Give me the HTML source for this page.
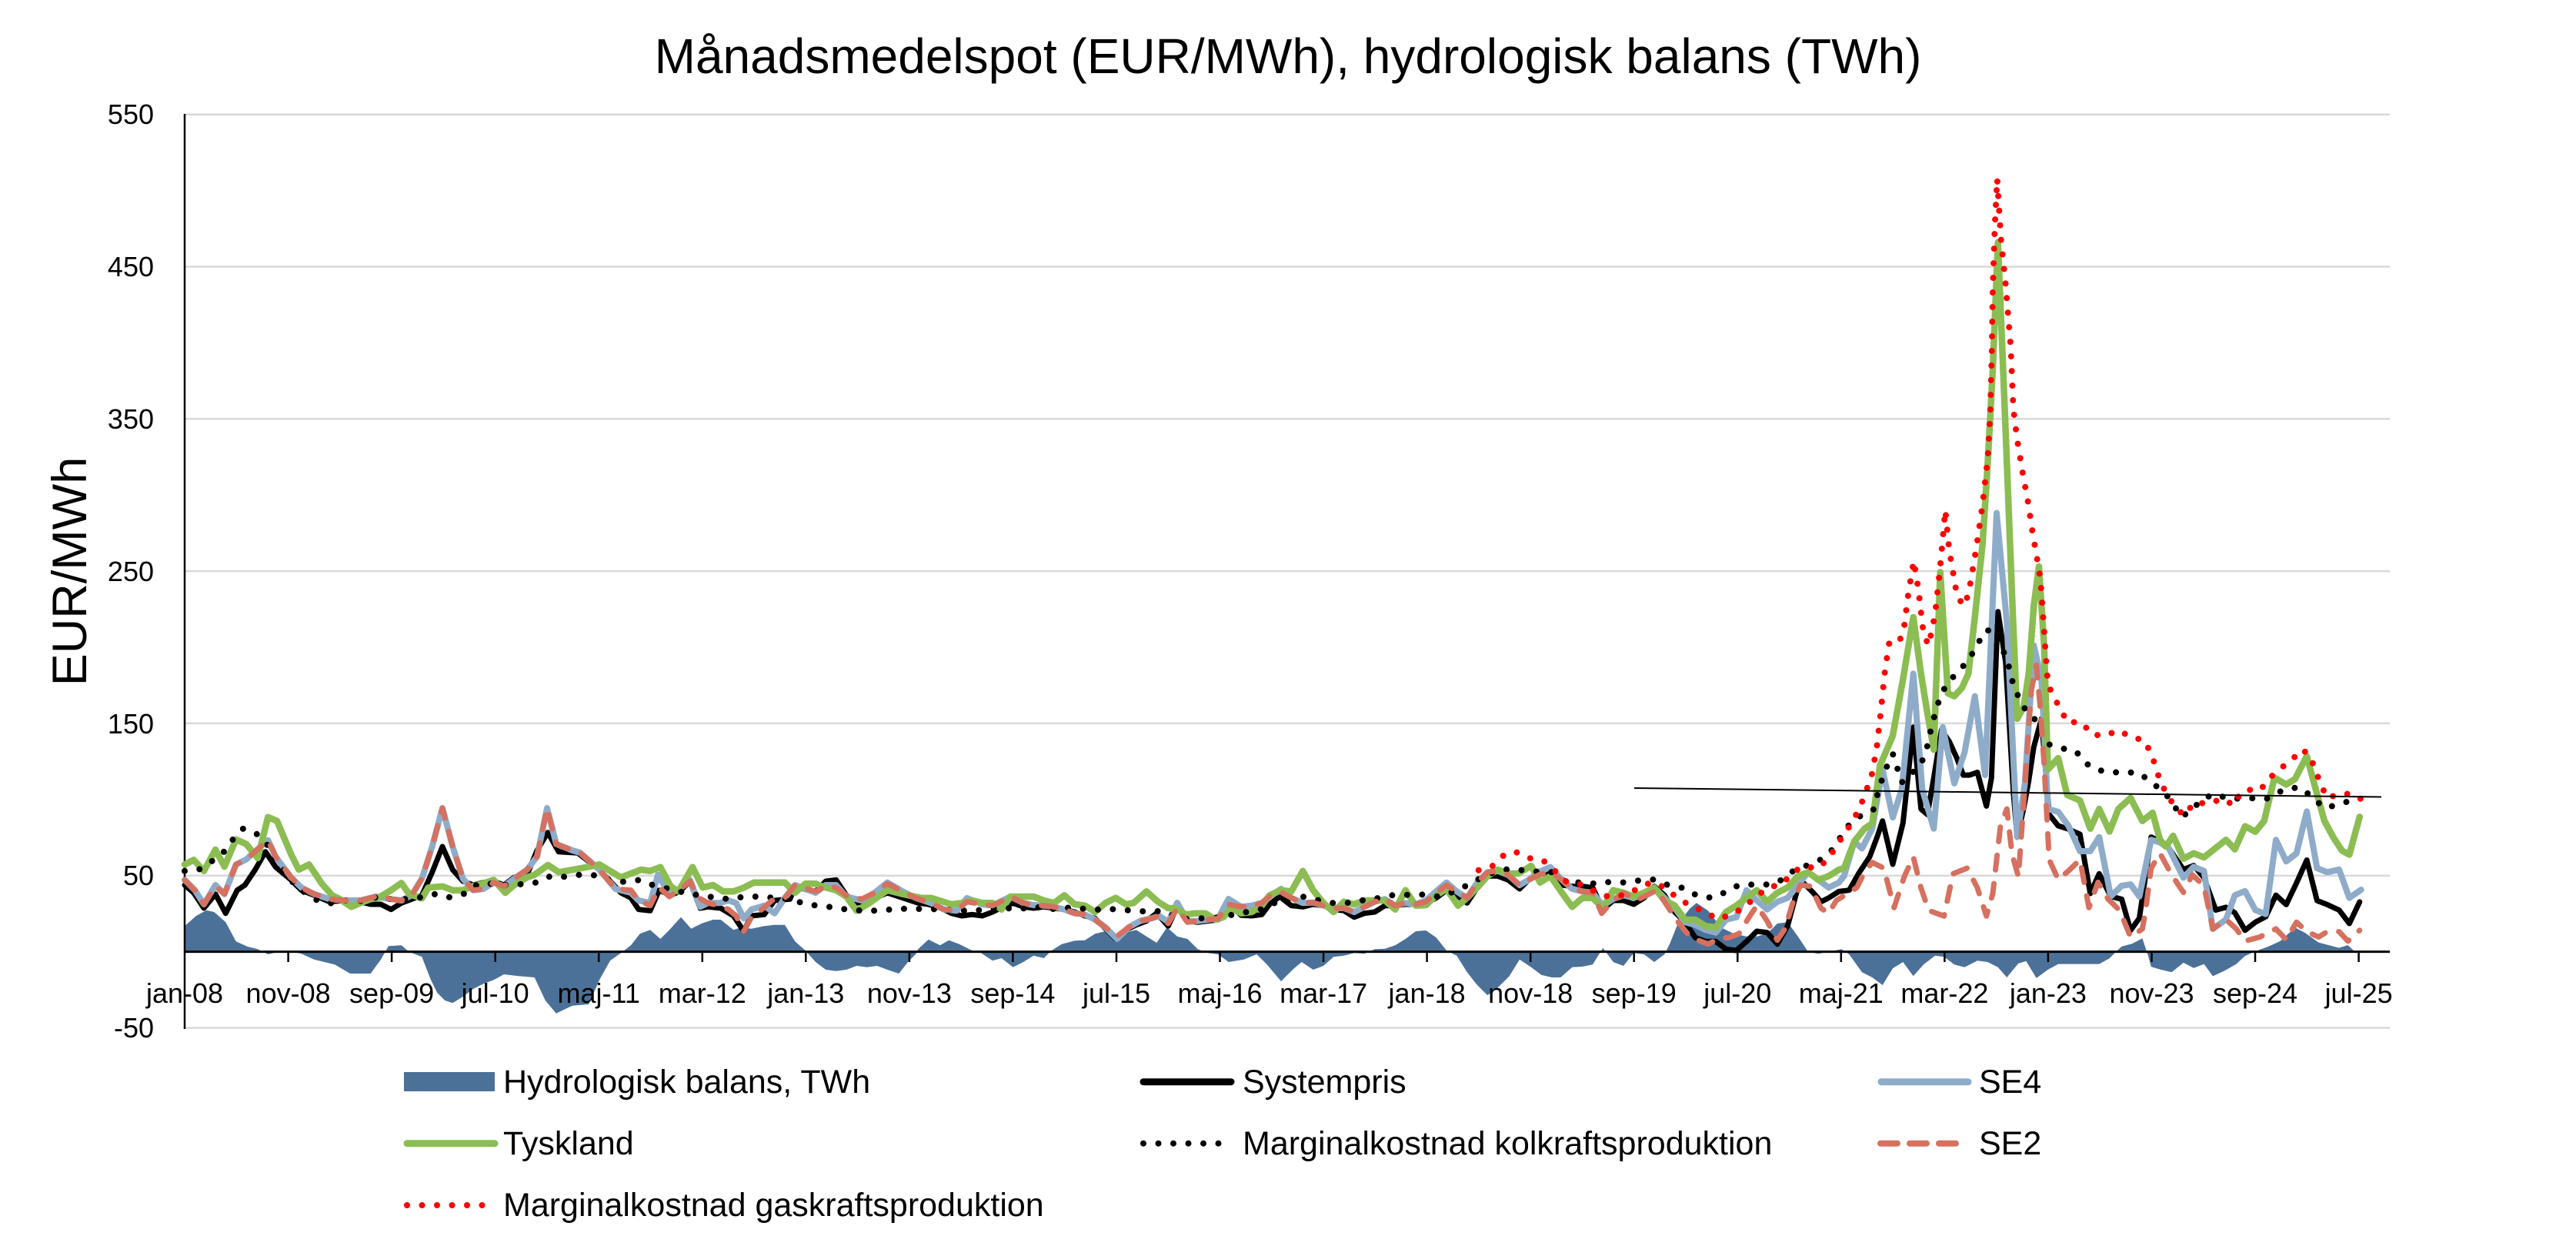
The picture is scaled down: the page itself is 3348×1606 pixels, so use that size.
<!DOCTYPE html>
<html><head><meta charset="utf-8"><style>
html,body{margin:0;padding:0;background:#fff;}
svg{display:block;}
text{font-family:"Liberation Sans",Arial,sans-serif;fill:#000;}
</style></head><body>
<svg width="3348" height="1606" viewBox="0 0 3348 1606" xmlns="http://www.w3.org/2000/svg">
<rect x="0" y="0" width="3348" height="1606" fill="#fff"/>
<text x="1674" y="95" font-size="64" text-anchor="middle">Månadsmedelspot (EUR/MWh), hydrologisk balans (TWh)</text>
<g stroke="#d9d9d9" stroke-width="2.5">
<line x1="240" y1="148.7" x2="3106" y2="148.7"/>
<line x1="240" y1="346.5" x2="3106" y2="346.5"/>
<line x1="240" y1="544.3" x2="3106" y2="544.3"/>
<line x1="240" y1="742.1" x2="3106" y2="742.1"/>
<line x1="240" y1="939.9" x2="3106" y2="939.9"/>
<line x1="240" y1="1137.7" x2="3106" y2="1137.7"/>
<line x1="240" y1="1335.5" x2="3106" y2="1335.5"/>
</g>
<g font-size="36" text-anchor="end">
<text x="200" y="161">550</text>
<text x="200" y="359">450</text>
<text x="200" y="557">350</text>
<text x="200" y="755">250</text>
<text x="200" y="953">150</text>
<text x="200" y="1150">50</text>
<text x="200" y="1348">-50</text>
</g>
<text transform="translate(112,742.5) rotate(-90)" font-size="63" text-anchor="middle">EUR/MWh</text>
<polygon fill="#4b7199" points="240,1236.6 240,1203.3 255,1190 268.3,1182.7 278.3,1185 293.3,1198.3 306.7,1223.3 321.7,1230 335,1233.3 348.3,1240 361.7,1236.7 375,1236 391.7,1239.3 408.3,1246.7 435,1253.3 455,1265 481.7,1265 495,1246.7 505,1229.3 521.7,1228.3 531.7,1236.7 548.3,1243.3 560,1273.3 568.3,1290 578.3,1300 588.3,1303.3 601.7,1295 615,1285 628.3,1278.3 641.7,1273.3 655,1266 673.7,1268.3 694.7,1270 708.8,1300 722.8,1316.7 743.9,1306.7 765,1305 779,1273.3 793,1248.3 807,1238.3 820,1228.3 831.7,1213.3 845,1208.3 858.3,1220 870,1208.3 885,1191.7 898.3,1206.7 911.7,1200 926.7,1195 936.7,1195 953.3,1208.3 963.3,1205 976.7,1206.7 993.3,1203.3 1006.7,1201.7 1020,1201.7 1033.3,1223.3 1046.7,1235 1060,1250 1073.3,1260 1086.7,1261.7 1100,1260 1113.3,1255 1126.7,1256.7 1140,1255 1153.3,1260 1168.3,1265 1180,1250 1190,1240 1193.3,1233.3 1206.7,1220.7 1221.7,1228.3 1233.3,1221.7 1246.7,1226.7 1263.3,1235 1275,1238.3 1290,1248.3 1301.7,1245 1316.7,1256.7 1330,1250 1343.3,1241.7 1356.7,1245 1366.7,1235 1380,1226.7 1396.7,1222.3 1410,1221.7 1423.3,1213.3 1436.7,1210 1450,1220 1463.3,1211.7 1476.7,1208.3 1490,1216.7 1503.3,1225 1516.7,1205 1530,1216.7 1543.3,1220 1556.7,1233.3 1570,1238.3 1583.3,1240 1596.7,1250 1616.7,1246.7 1633.3,1240 1646.7,1253.3 1665,1275 1680,1260 1691.7,1250 1706.7,1260 1720,1255 1733.3,1243.3 1746.7,1241.7 1760,1238.3 1773.3,1239.3 1786.7,1233.3 1800,1232.7 1813.3,1228.3 1826.7,1220 1840,1210 1853.3,1209 1866.7,1218.3 1880,1235 1893.3,1241.7 1906.7,1263.3 1920,1280 1933.3,1293.3 1946.7,1283.3 1961.7,1268.3 1975,1246.7 1990,1256.7 2003.3,1266.7 2016.7,1270 2028.3,1270 2043.3,1256.7 2056.7,1256 2070,1253.3 2083.3,1231.7 2096.7,1250 2110,1255 2123.3,1238.3 2136.7,1240 2150,1250 2163.3,1240 2170,1226.7 2180,1201.7 2196.7,1180 2205,1173.3 2220,1183.3 2236.7,1205 2253.3,1213.3 2270,1216.7 2283.3,1216.7 2296.7,1213.3 2310,1200 2323.3,1198.3 2336.7,1216.7 2350,1236.7 2363.3,1239.3 2376.7,1236.7 2393.3,1233.3 2403.3,1240 2420,1263.3 2433.3,1270 2446.7,1280 2460,1258.3 2473.3,1250 2486.7,1268.3 2500,1253.3 2515,1241.7 2526.7,1243.3 2540,1253.3 2553.3,1256.7 2570,1248.3 2583.3,1250 2596.7,1256.7 2608.3,1270 2623.3,1251.7 2633.3,1248.9 2646.7,1270.9 2661.7,1259.9 2675,1252.6 2690,1252.6 2703.3,1252.6 2716.7,1252.6 2728.3,1252.6 2741.7,1245.3 2750,1236.8 2757.6,1229.8 2771,1226.3 2784.4,1219.3 2792,1242.1 2795.8,1256.1 2807.3,1259.6 2822.5,1263.2 2837.8,1250.9 2851.1,1257.9 2864.5,1252.6 2876,1268.4 2891.2,1261.4 2906.5,1252.6 2917.9,1242.1 2929.4,1236.8 2948.5,1229.8 2963.7,1222.8 2982.8,1205.3 2996.2,1212.3 3013.4,1224.6 3040.1,1231.6 3051.5,1228.1 3063,1238.6 3063,1236.6"/>
<line x1="240" y1="148" x2="240" y2="1337" stroke="#000" stroke-width="2.5"/>
<line x1="240" y1="1236.6" x2="3106" y2="1236.6" stroke="#000" stroke-width="3"/>
<g stroke="#000" stroke-width="2.5">
<line x1="374.6" y1="1236" x2="374.6" y2="1250"/><line x1="509.1" y1="1236" x2="509.1" y2="1250"/><line x1="643.7" y1="1236" x2="643.7" y2="1250"/><line x1="778.2" y1="1236" x2="778.2" y2="1250"/><line x1="912.8" y1="1236" x2="912.8" y2="1250"/><line x1="1047.3" y1="1236" x2="1047.3" y2="1250"/><line x1="1181.9" y1="1236" x2="1181.9" y2="1250"/><line x1="1316.4" y1="1236" x2="1316.4" y2="1250"/><line x1="1451" y1="1236" x2="1451" y2="1250"/><line x1="1585.5" y1="1236" x2="1585.5" y2="1250"/><line x1="1720.1" y1="1236" x2="1720.1" y2="1250"/><line x1="1854.6" y1="1236" x2="1854.6" y2="1250"/><line x1="1989.2" y1="1236" x2="1989.2" y2="1250"/><line x1="2123.7" y1="1236" x2="2123.7" y2="1250"/><line x1="2258.3" y1="1236" x2="2258.3" y2="1250"/><line x1="2392.8" y1="1236" x2="2392.8" y2="1250"/><line x1="2527.4" y1="1236" x2="2527.4" y2="1250"/><line x1="2661.9" y1="1236" x2="2661.9" y2="1250"/><line x1="2796.5" y1="1236" x2="2796.5" y2="1250"/><line x1="2931" y1="1236" x2="2931" y2="1250"/><line x1="3065.6" y1="1236" x2="3065.6" y2="1250"/>
</g>
<g font-size="36" text-anchor="middle">
<text x="240" y="1303">jan-08</text><text x="374.6" y="1303">nov-08</text><text x="509.1" y="1303">sep-09</text><text x="643.7" y="1303">jul-10</text><text x="778.2" y="1303">maj-11</text><text x="912.8" y="1303">mar-12</text><text x="1047.3" y="1303">jan-13</text><text x="1181.9" y="1303">nov-13</text><text x="1316.4" y="1303">sep-14</text><text x="1451" y="1303">jul-15</text><text x="1585.5" y="1303">maj-16</text><text x="1720.1" y="1303">mar-17</text><text x="1854.6" y="1303">jan-18</text><text x="1989.2" y="1303">nov-18</text><text x="2123.7" y="1303">sep-19</text><text x="2258.3" y="1303">jul-20</text><text x="2392.8" y="1303">maj-21</text><text x="2527.4" y="1303">mar-22</text><text x="2661.9" y="1303">jan-23</text><text x="2796.5" y="1303">nov-23</text><text x="2931" y="1303">sep-24</text><text x="3065.6" y="1303">jul-25</text>
</g>
<g fill="none" stroke-linejoin="round" stroke-linecap="round">
<polyline stroke="#000" stroke-width="7" points="240,1150 251.7,1160 265,1180 280,1161.7 293.3,1186.7 308.3,1156.7 318.3,1150 331.7,1130 345,1106.7 358.3,1126.7 378.3,1143.3 391.7,1156.7 408.3,1163.3 428.3,1171.7 448.3,1170 468.3,1171.7 481.7,1175 495,1175 508.3,1181.7 521.7,1173.3 535,1168.3 548.3,1163.3 561.7,1133.3 575,1100 588.3,1130 601.7,1145 615,1150 628.3,1146.7 641.7,1145 655,1150 668.3,1140 685,1136.7 698,1105 712,1081.7 726,1106.7 751,1108.3 779,1130 807,1160 820,1166.7 830,1181.7 845,1183.3 856.7,1156.7 871.7,1163.3 883.3,1158.3 896.7,1145 910,1180 920,1178.3 936.7,1180 953.3,1190 966.7,1210 976.7,1190 993.3,1188.3 1006.7,1170 1026.7,1168.3 1033.3,1151.7 1050,1156.7 1060,1158.3 1073.3,1145 1086.7,1143.3 1100,1163.3 1113.3,1173.3 1130,1170 1153.3,1160 1173.3,1166.7 1193.3,1173.3 1206.7,1175 1223.3,1180 1236.7,1186.7 1250,1190 1263.3,1188.3 1276.7,1190 1290,1185 1303.3,1178.3 1316.7,1173.3 1330,1178.3 1343.3,1180 1356.7,1178.3 1370,1180 1383.3,1181.7 1396.7,1185 1410,1190 1423.3,1193.3 1436.7,1206.7 1450,1220 1463.3,1208.3 1476.7,1201.7 1490,1196.7 1503.3,1186.7 1518.3,1203.3 1530,1178.3 1543.3,1196.7 1556.7,1198.3 1570,1196.7 1583.3,1195 1596.7,1173.3 1613.3,1189.3 1626.7,1190 1640,1188.3 1650,1175 1663.3,1165 1678.3,1176.7 1693.3,1178.3 1706.7,1175 1720,1176.7 1733.3,1181.7 1746.7,1183.3 1760,1191.7 1773.3,1186.7 1786.7,1185 1800,1176.7 1813.3,1176.7 1826.7,1175 1840,1175 1853.3,1173.3 1866.7,1166.7 1880,1156.7 1893.3,1163.3 1906.7,1173.3 1920,1153.3 1933.3,1138.3 1946.7,1138.3 1960,1143.3 1975,1155 1986.7,1143.3 2000,1136.7 2015,1133.3 2030,1150 2043.3,1151.7 2056.7,1151.7 2070,1153.3 2083.3,1181.7 2096.7,1170 2110,1170 2123.3,1175 2136.7,1166.7 2150,1151.7 2163.3,1163.3 2176.7,1185 2190,1198.3 2203.3,1218.3 2216.7,1223.3 2230,1223.3 2243.3,1233.3 2256.7,1235 2270,1223.3 2283.3,1210 2296.7,1211.7 2310,1226.7 2323.3,1203.3 2336.7,1153.3 2343.3,1146.7 2356.7,1160 2366.7,1171.7 2376.7,1166.7 2390,1158.3 2403.3,1156.7 2416.7,1133.3 2430,1113.3 2440,1086.7 2446.7,1066.7 2460,1123 2473.3,1069.4 2486.7,944.8 2496.7,1051.1 2505,1058.4 2513.3,1010.8 2523.3,948.5 2533.3,963.2 2543.3,985.1 2551.7,1007.1 2560,1007.1 2570,1003.5 2581.7,1047.4 2588.3,1010.8 2596.7,794.7 2606.7,860.6 2616.7,1029.1 2621.7,1087.7 2630,1051.1 2636.7,1014.5 2643.3,970.5 2653.3,933.9 2663.3,1058.4 2675,1073 2686.7,1076.7 2703.3,1084 2716.7,1160.9 2728.3,1135.3 2743.3,1164.7 2757.6,1168.4 2769.1,1208.8 2780.5,1193 2795.8,1087.7 2807.3,1093 2818.7,1101.8 2837.8,1129.8 2851.1,1124.6 2864.5,1140.4 2879.8,1182.5 2893.1,1178.9 2904.6,1186 2917.9,1208.8 2931.3,1198.2 2944.7,1191.2 2958,1163.2 2971.4,1175.4 2984.7,1147.4 2998.1,1117.5 3011.5,1170.2 3024.8,1175.4 3040.1,1182.5 3053.4,1200 3066.8,1171.9"/>
<polyline stroke="#8eacc9" stroke-width="8" points="240,1143.3 253.3,1156.7 265,1175 280,1150 291.7,1161.7 306.7,1123.3 320,1116.7 335,1103.3 348.3,1091.7 358.3,1113.3 378.3,1140 391.7,1153.3 408.3,1161.7 428.3,1168.3 448.3,1170 468.3,1170 488.3,1165 508.3,1168.3 521.7,1170 535,1163.3 548.3,1141.7 561.7,1100 575,1050 588.3,1100 601.7,1141.7 615,1156.7 628.3,1155 641.7,1146.7 655,1151.7 668.3,1141.7 685,1130 698,1113 711,1050 723,1096.7 744,1105 754,1108 779,1130 800,1155 820,1160 830,1170 845,1173.3 855,1136.7 870,1161.7 883.3,1155 896.7,1143.3 910,1178.3 920,1173.3 935,1173.3 946.7,1170 956.7,1173.3 966.7,1193.3 976.7,1181.7 993.3,1176.7 1006.7,1186.7 1020,1166.7 1033.3,1150 1060,1160 1073.3,1150 1086.7,1150 1100,1165 1120,1170 1136.7,1160 1153.3,1146.7 1173.3,1158.3 1190,1166.7 1210,1173.3 1226.7,1181.7 1243.3,1183.3 1256.7,1167 1276.7,1175 1290,1176.7 1303.3,1170 1313.3,1165 1330,1173.3 1343.3,1176 1356.7,1176.7 1370,1178.3 1383.3,1181.7 1396.7,1186.7 1410,1188.3 1423.3,1195 1436.7,1205 1451.7,1220 1466.7,1205 1481.7,1196.7 1496.7,1193.3 1506.7,1190 1518.3,1198 1530,1173 1543.3,1196.7 1556.7,1196.7 1570,1195 1583.3,1193.3 1596.7,1168 1613.3,1178.3 1626.7,1176.7 1640,1173.3 1650,1165 1665,1155 1678.3,1166.7 1693.3,1173.3 1706.7,1172.7 1720,1176.7 1733.3,1180 1746.7,1180 1760,1185 1773.3,1178.3 1786.7,1171.7 1800,1168.3 1813.3,1176.7 1826.7,1173.3 1840,1175 1853.3,1170 1866.7,1158 1880,1146.7 1893.3,1158.3 1906.7,1166.7 1920,1146.7 1933.3,1133.3 1946.7,1131.7 1960,1136.7 1975,1150 1986.7,1143.3 2000,1133 2015,1126.7 2030,1143.3 2043.3,1155 2056.7,1158.3 2070,1160 2083.3,1176.7 2096.7,1168 2110,1163.3 2123.3,1166.7 2136.7,1161.7 2150,1153.3 2163.3,1166.7 2176.7,1180 2190,1198.3 2203.3,1201.7 2216.7,1208.3 2230,1211.7 2243.3,1195 2256.7,1191.7 2270,1156.7 2283.3,1170 2296.7,1181.7 2310,1171.7 2323.3,1166.7 2336.7,1150 2350,1133.3 2363.3,1143.3 2376.7,1153.3 2390,1146.7 2396.7,1138.3 2410,1093.3 2420,1102.4 2433.3,1076.7 2446.7,999.8 2460,1062.1 2471.7,1025.5 2486.7,875.3 2498.3,1025.5 2513.3,1076.7 2525,944.8 2540,1017.9 2553.3,977.7 2566.7,904.6 2580,1007.1 2595,666.5 2608.3,809.3 2621.7,1087.7 2631.7,1018 2643.3,838.6 2653.3,882.6 2661.7,1051.1 2675,1054.8 2688.3,1073 2703.3,1106 2716.7,1106 2728.3,1087.7 2743.3,1164.7 2757.6,1150.9 2769.1,1149.1 2780.5,1164.9 2795.8,1091.2 2807.3,1094.7 2818.7,1101.8 2837.8,1140.4 2851.1,1126.3 2864.5,1131.6 2876,1207 2893.1,1194.7 2904.6,1163.2 2917.9,1157.9 2931.3,1182.5 2944.7,1187.7 2958,1091.2 2971.4,1119.3 2984.7,1108.8 2998.1,1054.4 3011.5,1128.1 3024.8,1133.3 3040.1,1129.8 3053.4,1166.7 3068.7,1156.1"/>
<polyline stroke="#8bbd52" stroke-width="8.5" points="240,1123.3 251.7,1117.3 265,1131.7 280,1104 291.7,1126 306.7,1090.7 320,1096.7 335,1115 348.3,1061.7 360,1066.7 378.3,1110 388.3,1130 401.7,1123.3 418.3,1148.3 431.7,1163.3 441.7,1168.3 456.7,1178.3 468.3,1173.3 481.7,1168.3 491.7,1166.7 508.3,1156.7 521.7,1147.3 531.7,1161.7 548.3,1167.3 556.7,1153.3 575,1151.7 588.3,1156.7 601.7,1156.7 613.3,1151.7 626.7,1148.3 641.7,1143.3 656.7,1160 668.3,1150 685,1140 694.7,1136.7 712.3,1124 726.3,1133.3 754.4,1128.3 779,1123.3 807,1140 820,1135 833.3,1130 845,1131.7 858.3,1126.7 871.7,1151.7 881.7,1158.3 900,1126.7 913.3,1153.3 926.7,1150 940,1158.3 953.3,1158.3 966.7,1153.3 980,1146.7 1020,1146.7 1033.3,1160 1046.7,1148.3 1060,1148.3 1073.3,1153.3 1086.7,1156.7 1100,1165 1113.3,1183.3 1130,1173.3 1153.3,1156.7 1173.3,1161.7 1196.7,1166.7 1210,1166.7 1236.7,1175 1250,1173.3 1263.3,1170 1276.7,1173.3 1290,1173.3 1301.7,1181.7 1313.3,1165 1343.3,1165 1356.7,1170 1370,1173.3 1383.3,1163.3 1396.7,1175 1410,1176.7 1423.3,1185 1436.7,1173.3 1450,1166.7 1463.3,1175 1473.3,1173.3 1490,1158.3 1505,1171.7 1518.3,1180 1526.7,1180 1541.7,1188.3 1553.3,1186.7 1566.7,1186.7 1580,1195 1590,1191.7 1600,1180 1613.3,1186.7 1626.7,1185 1640,1176.7 1650,1163.3 1665,1156.7 1678.3,1158.3 1693.3,1131.7 1706.7,1156.7 1720,1173.3 1733.3,1185 1746.7,1171.7 1760,1175 1773.3,1170 1786.7,1170 1800,1170 1813.3,1181.7 1826.7,1156.7 1840,1176.7 1853.3,1176 1866.7,1163.3 1880,1155 1895,1176.7 1906.7,1166.7 1920,1153.3 1933.3,1138.3 1946.7,1130 1960,1135 1973.3,1135 1990,1125 2001.7,1146.7 2015,1138.3 2030,1160 2043.3,1178.3 2056.7,1166.7 2070,1166.7 2083.3,1180 2096.7,1156.7 2110,1160 2123.3,1165 2136.7,1160 2150,1153.3 2163.3,1170 2176.7,1176.7 2190,1195 2203.3,1195 2216.7,1203.3 2230,1205 2243.3,1185 2256.7,1176.7 2270,1166.7 2283.3,1156.7 2296.7,1171.7 2310,1160 2323.3,1153.3 2336.7,1138.3 2350,1133.3 2363.3,1143.3 2376.7,1138.3 2390,1130 2396.7,1128.3 2410,1093.3 2423.3,1076.7 2433.3,1070 2443.3,995 2460,955.9 2473.3,882.6 2486.7,802 2496.7,875.3 2505,926.6 2513.3,974.2 2521.7,743.4 2531.7,900.9 2540,904.6 2550,893.6 2558.3,875.3 2566.7,802 2576.7,706.8 2583.3,604.2 2590,479.7 2596.7,314.8 2606.7,560.3 2615,772.7 2621.7,933.9 2630,919.2 2636.7,875.3 2643.3,787.4 2650,736.1 2656.7,838.6 2661.7,999.8 2675,985.1 2686.7,1032.8 2703.3,1040.1 2716.7,1076.7 2728.3,1051.1 2741.7,1080.4 2753.3,1051.1 2769.1,1036.8 2784.4,1066.7 2797.7,1056.1 2807.3,1091.2 2814.9,1100 2824.4,1086 2837.8,1115.8 2851.1,1108.8 2864.5,1114 2879.8,1101.8 2893.1,1091.2 2904.6,1103.5 2917.9,1073.7 2931.3,1080.7 2942.7,1066.7 2956.1,1010.5 2971.4,1019.3 2982.8,1012.3 2998.1,982.5 3009.5,1024.6 3021,1066.7 3032.4,1087.7 3043.9,1105.3 3053.4,1110.5 3066.8,1061.4"/>
<polyline stroke="#000" stroke-width="8" stroke-dasharray="0 19.5" points="240,1131.7 258.3,1130 275,1119.3 291,1106.7 302.7,1090.7 316,1076.7 332.7,1082.7 346.7,1096.7 378.3,1144.3 393.3,1157.7 408.3,1168.3 427.7,1174 447.7,1170 468.3,1170.7 488.3,1166 508.3,1168.3 527.7,1168.3 546.7,1166 565.7,1161.7 585,1166 604.3,1161 621.7,1148.3 638.3,1148.3 658.3,1150 673.7,1149.3 696.8,1146.7 715.8,1138.3 734.7,1139.3 753,1136.7 772,1137.3 793,1143.3 812,1146 831.7,1143.3 850,1150.7 870,1155 890,1160 908.3,1163.3 928.3,1166 948.3,1168.3 967.7,1165 987.3,1165 1006.7,1166.7 1026.7,1168.3 1046,1174.3 1065,1177.3 1085,1179 1105,1182.7 1124.3,1183.3 1145,1183.3 1165,1180.7 1185,1181 1205,1181 1225,1181.7 1245,1183.3 1263.3,1183.3 1283.3,1181.7 1303.3,1179.3 1323.3,1181.7 1343.3,1177.7 1363.3,1181.7 1382.7,1179.3 1401.7,1180 1421,1182.3 1441,1181 1461,1182.3 1481.7,1184.3 1501.7,1183.3 1520,1187.7 1540,1194.3 1558.3,1193.3 1578.3,1192.7 1598.3,1189.3 1620,1185 1638.3,1181.7 1656.7,1173.3 1676.7,1166.7 1692.7,1165 1711.7,1169.3 1731,1173.3 1750,1173.3 1770,1170 1789.3,1167.3 1809,1163.3 1828.3,1162.7 1847.7,1162.3 1866.7,1165 1885.7,1160 1904,1151.7 1922.7,1141.7 1941.7,1133.3 1960,1129.3 1979,1130.7 1998.3,1132.7 2016.7,1133.3 2035,1146 2055,1146.7 2075,1148.3 2091.7,1146 2111.7,1146.7 2130.7,1144 2150.7,1142.7 2169.3,1150.7 2189,1154 2206,1164 2225.7,1166.7 2242.3,1159.3 2260,1150 2279.3,1149.3 2299.3,1149.3 2317.3,1142.7 2331.7,1130.7 2350,1124 2368.3,1116 2382.7,1102.7 2395,1083.3 2405,1069.3 2420.7,1058.3 2435,1051.7 2440,1032.7 2446,1012.7 2452.7,995 2460,979.3 2466,998.3 2471.7,1016.7 2478.3,1010 2494,996.7 2502.7,980 2506.7,960 2511.7,939.7 2516.7,920.7 2523.3,900.9 2533.3,884.8 2546.7,871.6 2560,854.8 2570,838.6 2578.3,820.3 2590,818.1 2598.3,832.8 2606.7,853.3 2613.3,873.8 2616.7,891.4 2626.7,911.9 2635,926.6 2643.3,932.5 2651.7,948.5 2661.7,966.8 2678.3,972 2698.3,976.4 2710,991 2723.3,999.8 2741.7,1003.5 2761.5,1003.5 2780.5,1004.2 2795.8,1016.8 2811.1,1027.4 2824.4,1043.9 2834,1061.4 2847.3,1054.4 2860.7,1039.3 2877.9,1031.6 2896.9,1037.9 2926.3,1037.2 2944.7,1038.6 2961.8,1029.1 2979,1023.5 2993.1,1024.6 3007.6,1039.6 3024,1050.2 3042,1043.2 3060.3,1040.4"/>
<polyline stroke="#d6705f" stroke-width="7" stroke-dasharray="19 18" points="240,1143.3 253.3,1156.7 265,1175 280,1151.7 291.7,1161.7 306.7,1123.3 320,1116.7 335,1103.3 348.3,1091.7 358.3,1113.3 378.3,1140 391.7,1153.3 408.3,1161.7 428.3,1168.3 448.3,1170 468.3,1170 488.3,1165 508.3,1168.3 521.7,1170 535,1163.3 548.3,1141.7 561.7,1100 575,1050 588.3,1100 601.7,1141.7 615,1156.7 628.3,1155 641.7,1146.7 655,1151.7 668.3,1141.7 685,1130 698,1113 711,1050 723,1096.7 744,1105 754,1108 779,1130 800,1155 820,1156.7 830,1170 845,1176.7 856.7,1153.3 870,1165 883.3,1156.7 896.7,1145 908.3,1166.7 920,1173.3 935,1176.7 946.7,1181.7 956.7,1190 966.7,1210 976.7,1191.7 990,1181.7 1003.3,1170 1020,1166.7 1033.3,1150 1060,1158.3 1073.3,1151.7 1086.7,1153.3 1100,1163.3 1120,1168.3 1136.7,1160 1153.3,1148.3 1173.3,1158.3 1190,1166.7 1210,1173.3 1226.7,1181.7 1243.3,1183.3 1256.7,1171.7 1276.7,1175 1290,1176.7 1303.3,1170 1313.3,1165 1330,1173.3 1343.3,1176 1356.7,1176.7 1370,1178.3 1383.3,1181.7 1396.7,1186.7 1410,1188.3 1423.3,1195 1436.7,1205 1451.7,1216.7 1466.7,1205 1481.7,1196.7 1496.7,1193.3 1506.7,1190 1518.3,1200 1530,1180 1543.3,1198.3 1556.7,1196.7 1570,1195 1583.3,1193.3 1596.7,1175 1613.3,1178.3 1626.7,1176.7 1640,1173.3 1650,1165 1665,1159.3 1678.3,1166.7 1693.3,1173.3 1706.7,1172.7 1720,1176.7 1733.3,1180 1746.7,1180 1760,1185 1773.3,1178.3 1786.7,1171.7 1800,1168.3 1813.3,1176.7 1826.7,1173.3 1840,1175 1853.3,1171.7 1866.7,1160 1880,1150 1893.3,1158.3 1906.7,1166.7 1920,1146.7 1933.3,1133.3 1946.7,1131.7 1960,1136.7 1975,1150 1986.7,1143.3 2000,1136.7 2015,1133.3 2030,1143.3 2043.3,1155 2056.7,1158.3 2070,1160 2081.7,1186.7 2096.7,1170 2110,1160 2126.7,1170 2143.3,1161.7 2153.3,1156.7 2166.7,1176.7 2180,1196.7 2193.3,1213.3 2206.7,1221.7 2220,1226.7 2233.3,1220 2246.7,1218.3 2260,1213.3 2273.3,1191.7 2283.3,1176.7 2296.7,1196.7 2310,1221.7 2320,1206.7 2330,1173.3 2340,1150 2353.3,1151.7 2366.7,1180 2376.7,1186.7 2386.7,1170 2400,1161.7 2413.3,1153.3 2423.3,1133.3 2433.3,1120.7 2448.3,1128 2461.7,1179.3 2475,1139 2486.7,1113.4 2496.7,1153.7 2506.7,1183 2526.7,1190.3 2538.3,1135.3 2556.7,1128 2570,1153.7 2581.7,1190.3 2590,1161 2600,1073 2608.3,1051.1 2615,1109.7 2623.3,1139 2631.7,1021.8 2640,897.3 2646.7,864.3 2651.7,919.2 2656.7,992.5 2663.3,1117 2675,1142.7 2688.3,1131.7 2703.3,1117 2715,1179.3 2726.7,1146.4 2740,1168.4 2755,1183 2769.1,1217.5 2784.4,1207 2788.2,1186 2795.8,1128.1 2807.3,1108.8 2822.5,1136.8 2837.8,1159.6 2849.2,1136.8 2864.5,1150.9 2876,1207 2893.1,1194.7 2906.5,1207 2917.9,1222.8 2937,1217.5 2958,1207 2971.4,1221 2984.7,1198.2 2998.1,1210.5 3013.4,1217.5 3024.8,1210.5 3040.1,1210.5 3051.5,1222.8 3066.8,1208.8"/>
<polyline stroke="#ff0000" stroke-width="8" stroke-dasharray="0 19" points="1921.7,1130.7 1940,1125 1955,1110.7 1969.3,1106.7 1987.7,1115 2006.7,1119 2021.7,1132.3 2036,1145.7 2055,1149.3 2072.7,1158.3 2090,1165 2110,1163.3 2128.3,1155 2145,1146.7 2163.3,1152.7 2179,1166 2196.7,1176.7 2214.3,1184 2232.3,1194 2251,1188.3 2267.7,1178.3 2282.7,1164.3 2299,1153.3 2316.7,1148.3 2330,1133.3 2344.3,1125.7 2362.3,1128.3 2376.7,1115.7 2386.7,1099 2398.3,1082.3 2409,1065 2418.3,1046.7 2425,1028.3 2432.3,1009.3 2439.3,970.5 2444,928.8 2450,870.2 2456,831.3 2470,829.9 2475,813 2480,772.7 2487.3,728.8 2493.3,765.4 2500,824 2506.7,838.6 2515,798.4 2521.7,736.1 2528.3,662.8 2533.3,714.1 2543.3,772.7 2551.7,787.4 2558.3,772.7 2568.3,714.1 2576.7,655.5 2583.3,596.9 2586.7,538.3 2588.7,457.7 2590,373.4 2592.7,292.9 2595.7,232 2600.7,311.2 2606.7,369.8 2613.3,450.4 2616.7,531 2621.7,571.2 2628.3,611.5 2635.7,651.8 2641.7,692.1 2648.3,730.2 2651.7,750.7 2656,809.3 2660,868 2661.7,889.9 2669.3,904.6 2678.3,922.9 2688.3,939.7 2700,937.5 2706.7,939.7 2718.3,954.4 2735,955.9 2753.8,949.1 2771,958.6 2786.3,961.4 2795.8,978.9 2802.3,998.2 2808,1016.8 2817.9,1034.4 2828.2,1050.9 2839.7,1059.6 2851.1,1043.2 2871,1043.9 2888.2,1037.9 2903.4,1046.3 2913,1028.8 2923.7,1026.3 2937,1027.4 2949.2,1011.6 2963,998.9 2977.9,988.4 2991.2,973.7 3001.9,980.7 3008.8,1000 3016.4,1018.6 3024,1036.8 3042,1031.6 3058.4,1031.6 3074.4,1042.1"/>
</g>
<line x1="2124" y1="1024" x2="3095" y2="1035.5" stroke="#000" stroke-width="2"/>
<rect x="525" y="1393" width="118" height="25" fill="#4b7199"/>
<text x="654" y="1420" font-size="43">Hydrologisk balans, TWh</text>
<line x1="1486" y1="1405.7" x2="1600" y2="1405.7" stroke="#000" stroke-width="9" stroke-linecap="round"/>
<text x="1615" y="1420" font-size="43">Systempris</text>
<line x1="2445" y1="1405.7" x2="2558" y2="1405.7" stroke="#8eacc9" stroke-width="9" stroke-linecap="round"/>
<text x="2572" y="1420" font-size="43">SE4</text>
<line x1="529" y1="1485.7" x2="643" y2="1485.7" stroke="#8bbd52" stroke-width="9" stroke-linecap="round"/>
<text x="654" y="1500" font-size="43">Tyskland</text>
<line x1="1486" y1="1485.7" x2="1586" y2="1485.7" stroke="#000" stroke-width="8" stroke-linecap="round" stroke-dasharray="0 19.5"/>
<text x="1615" y="1500" font-size="43">Marginalkostnad kolkraftsproduktion</text>
<line x1="2444" y1="1485.7" x2="2546" y2="1485.7" stroke="#d6705f" stroke-width="8" stroke-linecap="round" stroke-dasharray="22 16"/>
<text x="2572" y="1500" font-size="43">SE2</text>
<line x1="529" y1="1566" x2="629" y2="1566" stroke="#ff0000" stroke-width="8" stroke-linecap="round" stroke-dasharray="0 19.5"/>
<text x="654" y="1580" font-size="43">Marginalkostnad gaskraftsproduktion</text>
</svg>
</body></html>
